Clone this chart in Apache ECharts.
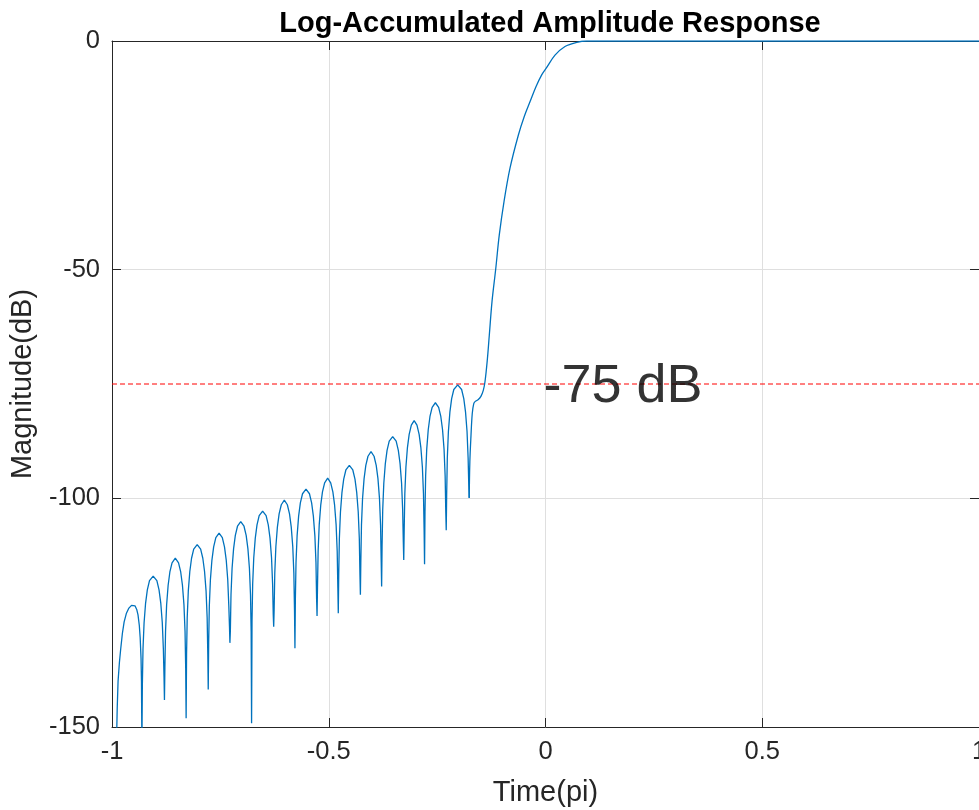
<!DOCTYPE html>
<html>
<head>
<meta charset="utf-8">
<script src="https://cdn.jsdelivr.net/npm/echarts@6/dist/echarts.min.js"></script>
<style>
html,body{margin:0;padding:0;background:#fff;}
#chart{width:979px;height:810px;}
</style>
</head>
<body>
<div id="chart"></div>
<script>
// ---- Data ----
var titleText = 'Log-Accumulated Amplitude Response';
var xLabel = 'Time(pi)';
var yLabel = 'Magnitude(dB)';
var xTicks = [-1, -0.5, 0, 0.5, 1];
var yTicks = [-150, -100, -50, 0];

// side-lobe region: [time(pi), dB]
var sidelobes = [
  [-0.990,-155],[-0.988,-146],[-0.986,-140],[-0.983,-136],[-0.980,-133],[-0.976,-129.5],[-0.972,-127],[-0.967,-125.2],[-0.961,-124],[-0.955,-123.4],[-0.951,-123.3],[-0.947,-123.5],[-0.943,-124.3],[-0.940,-125.5],[-0.937,-127.8],[-0.935,-130.5],[-0.933,-135],[-0.932,-140],[-0.931,-155],
  [-0.930,-141],[-0.9285,-133],[-0.926,-127.2],[-0.9225,-122.9],[-0.9185,-120.0],[-0.9135,-118.0],[-0.905,-117.0],[-0.8965,-118.0],[-0.8915,-120.0],[-0.8875,-122.9],[-0.884,-127.2],[-0.8815,-133],[-0.880,-139],[-0.879,-144.1],
  [-0.878,-137.1],[-0.8765,-129.1],[-0.874,-123.3],[-0.8705,-119.0],[-0.8665,-116.1],[-0.8615,-114.1],[-0.854,-113.1],[-0.8465,-114.1],[-0.8415,-116.1],[-0.8375,-119.0],[-0.834,-123.3],[-0.8315,-129.1],[-0.830,-137.1],[-0.829,-148.1],
  [-0.828,-134.1],[-0.8265,-126.1],[-0.824,-120.3],[-0.8205,-116.0],[-0.8165,-113.1],[-0.8115,-111.1],[-0.8035,-110.1],[-0.7955,-111.1],[-0.7905,-113.1],[-0.7865,-116.0],[-0.783,-120.3],[-0.7805,-126.1],[-0.779,-134.1],[-0.778,-141.8],
  [-0.777,-131.6],[-0.7755,-123.6],[-0.773,-117.8],[-0.7695,-113.5],[-0.7655,-110.6],[-0.7605,-108.6],[-0.753,-107.6],[-0.7455,-108.6],[-0.7405,-110.6],[-0.7365,-113.5],[-0.733,-117.8],[-0.7305,-123.6],[-0.729,-128],[-0.728,-131.6],
  [-0.727,-129.1],[-0.7255,-121.1],[-0.723,-115.3],[-0.7195,-111.0],[-0.7155,-108.1],[-0.7105,-106.1],[-0.703,-105.1],[-0.6955,-106.1],[-0.6905,-108.1],[-0.6865,-111.0],[-0.683,-115.3],[-0.6805,-121.1],[-0.679,-129.1],[-0.678,-149.2],
  [-0.677,-126.8],[-0.6755,-118.8],[-0.673,-113.0],[-0.6695,-108.7],[-0.6655,-105.8],[-0.6605,-103.8],[-0.6525,-102.8],[-0.6445,-103.8],[-0.6395,-105.8],[-0.6355,-108.7],[-0.632,-113.0],[-0.6295,-118.8],[-0.628,-125.5],[-0.627,-128.1],
  [-0.626,-124.4],[-0.6245,-116.4],[-0.622,-110.6],[-0.6185,-106.3],[-0.6145,-103.4],[-0.6095,-101.4],[-0.6025,-100.4],[-0.5955,-101.4],[-0.5905,-103.4],[-0.5865,-106.3],[-0.583,-110.6],[-0.5805,-116.4],[-0.579,-124.4],[-0.578,-132.8],
  [-0.577,-122.0],[-0.5755,-114.0],[-0.573,-108.2],[-0.5695,-103.9],[-0.5655,-101.0],[-0.5605,-99.0],[-0.5525,-98.0],[-0.5445,-99.0],[-0.5395,-101.0],[-0.5355,-103.9],[-0.532,-108.2],[-0.5295,-114.0],[-0.528,-122.0],[-0.527,-125.7],
  [-0.526,-119.6],[-0.5245,-111.6],[-0.522,-105.8],[-0.5185,-101.5],[-0.5145,-98.6],[-0.5095,-96.6],[-0.5025,-95.6],[-0.4955,-96.6],[-0.4905,-98.6],[-0.4865,-101.5],[-0.483,-105.8],[-0.4805,-111.6],[-0.479,-119.6],[-0.478,-125.1],
  [-0.477,-116.8],[-0.4755,-108.8],[-0.473,-103.0],[-0.4695,-98.7],[-0.4655,-95.8],[-0.4605,-93.8],[-0.4525,-92.8],[-0.4445,-93.8],[-0.4395,-95.8],[-0.4355,-98.7],[-0.432,-103.0],[-0.4295,-108.8],[-0.428,-116.8],[-0.427,-121.1],
  [-0.426,-113.8],[-0.4245,-105.8],[-0.422,-100.0],[-0.4185,-95.7],[-0.4145,-92.8],[-0.4095,-90.8],[-0.4025,-89.8],[-0.3955,-90.8],[-0.3905,-92.8],[-0.3865,-95.7],[-0.383,-100.0],[-0.3805,-105.8],[-0.379,-113.8],[-0.378,-119.3],
  [-0.377,-110.5],[-0.3755,-102.5],[-0.373,-96.7],[-0.3695,-92.4],[-0.3655,-89.5],[-0.3605,-87.5],[-0.3525,-86.5],[-0.3445,-87.5],[-0.3395,-89.5],[-0.3355,-92.4],[-0.332,-96.7],[-0.3295,-102.5],[-0.328,-109.5],[-0.327,-113.5],
  [-0.326,-107.0],[-0.3245,-99.0],[-0.322,-93.2],[-0.3185,-88.9],[-0.3145,-86.0],[-0.3095,-84.0],[-0.303,-83.0],[-0.2965,-84.0],[-0.2915,-86.0],[-0.2875,-88.9],[-0.284,-93.2],[-0.2815,-99.0],[-0.280,-107.0],[-0.279,-114.4],
  [-0.278,-103.1],[-0.2765,-95.1],[-0.274,-89.3],[-0.2705,-85.0],[-0.2665,-82.1],[-0.2615,-80.1],[-0.254,-79.1],[-0.2465,-80.1],[-0.2415,-82.1],[-0.2375,-85.0],[-0.234,-89.3],[-0.2315,-95.1],[-0.230,-103.1],[-0.229,-107.0],
  [-0.228,-99.2],[-0.2265,-91.2],[-0.224,-85.4],[-0.2205,-81.1],[-0.2165,-78.2],[-0.2115,-76.2],[-0.2025,-75.2],[-0.1935,-76.2],[-0.1885,-78.2],[-0.1845,-81.1],[-0.181,-85.4],[-0.1785,-91.2],[-0.177,-97],[-0.176,-99.9]
];

// transition band and pass band
var transition = [
  [-0.176,-99.9],[-0.1745,-92],[-0.172,-86.5],[-0.169,-81.5],[-0.1655,-79.3],[-0.162,-78.8],[-0.155,-78.4],[-0.149,-77.7],
  [-0.1435,-76.4],[-0.1396,-74.5],[-0.1345,-70],[-0.1296,-64.3],[-0.1234,-57.0],[-0.1149,-49.9],[-0.1066,-42.4],
  [-0.0957,-35.1],[-0.0819,-27.8],[-0.0627,-20.6],[-0.049,-16.5],[-0.0358,-13.3],[-0.022,-10.0],[-0.0088,-7.4],
  [0.0012,-6.0],[0.0219,-3.1],[0.045,-1.2],[0.072,-0.3],[0.095,0],[0.2,0],[0.5,0],[1,0]
];

var refLevel = -75;
var refLabel = '-75 dB';
var refLabelAt = [0, -75];
var refLine = [[-1, refLevel], [1, refLevel]];

// ---- Chart ----
var axisColor = '#262626';
var font = 'Liberation Sans, Arial, Helvetica, sans-serif';

var chart = echarts.init(document.getElementById('chart'), null, {renderer: 'canvas'});
chart.setOption({
  animation: false,
  backgroundColor: '#ffffff',
  title: {
    text: titleText,
    left: 545, top: 4, textAlign: 'center',
    textStyle: {fontFamily: font, fontWeight: 'bold', fontSize: 29, color: '#000'}
  },
  grid: {left: 112, right: 0, top: 41, bottom: 83, containLabel: false, outerBoundsMode: 'none'},
  xAxis: [{
    type: 'value', min: xTicks[0], max: xTicks[xTicks.length - 1], interval: 0.5,
    position: 'bottom',
    name: xLabel, nameLocation: 'middle', nameGap: 51,
    nameTextStyle: {fontFamily: font, fontSize: 29, color: axisColor},
    axisLine: {show: true, onZero: false, lineStyle: {color: axisColor, width: 1}},
    axisTick: {show: true, inside: true, length: 9, lineStyle: {color: axisColor}},
    axisLabel: {fontFamily: font, fontSize: 25.5, color: axisColor, margin: 12},
    splitLine: {show: true, lineStyle: {color: '#dfdfdf', width: 1}}
  }, {
    type: 'value', min: xTicks[0], max: xTicks[xTicks.length - 1], interval: 0.5,
    position: 'top',
    axisLine: {show: true, onZero: false, lineStyle: {color: axisColor, width: 1}},
    axisTick: {show: true, inside: true, length: 9, lineStyle: {color: axisColor}},
    axisLabel: {show: false},
    splitLine: {show: false}
  }],
  yAxis: [{
    type: 'value', min: yTicks[0], max: yTicks[yTicks.length - 1], interval: 50,
    position: 'left',
    name: yLabel, nameLocation: 'middle', nameGap: 75, nameRotate: 90,
    nameTextStyle: {fontFamily: font, fontSize: 29, color: axisColor},
    axisLine: {show: true, onZero: false, lineStyle: {color: axisColor, width: 1}},
    axisTick: {show: true, inside: true, length: 9, lineStyle: {color: axisColor}},
    axisLabel: {fontFamily: font, fontSize: 25.5, color: axisColor, margin: 12},
    splitLine: {show: true, lineStyle: {color: '#dfdfdf', width: 1}}
  }, {
    type: 'value', min: yTicks[0], max: yTicks[yTicks.length - 1], interval: 50,
    position: 'right',
    axisLine: {show: true, onZero: false, lineStyle: {color: axisColor, width: 1}},
    axisTick: {show: true, inside: true, length: 9, lineStyle: {color: axisColor}},
    axisLabel: {show: false},
    splitLine: {show: false}
  }],
  series: [{
    type: 'line',
    data: refLine,
    showSymbol: false,
    symbol: 'none',
    lineStyle: {color: '#ff0000', width: 1, type: [5, 3]},
    z: 3
  }, {
    type: 'line',
    data: sidelobes,
    showSymbol: false,
    symbol: 'none',
    clip: true,
    lineStyle: {color: '#0072BD', width: 1.3},
    z: 4
  }, {
    type: 'line',
    data: transition,
    showSymbol: false,
    symbol: 'none',
    smooth: 0.35,
    clip: true,
    lineStyle: {color: '#0072BD', width: 1.3},
    z: 4
  }, {
    type: 'scatter',
    data: [refLabelAt],
    symbolSize: 0,
    label: {
      show: true, position: 'right', distance: 0, offset: [-2, 3],
      formatter: refLabel,
      fontFamily: font, fontSize: 54, color: '#000000'
    },
    z: 5
  }]
});
</script>
</body>
</html>
